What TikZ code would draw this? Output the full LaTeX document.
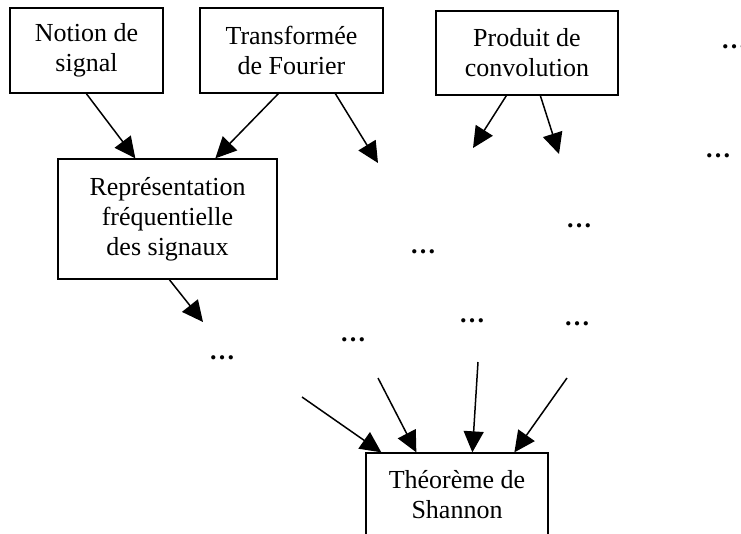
\documentclass[tikz,border=0pt]{standalone}
\usepackage{fontspec}
\setmainfont{Liberation Serif}
\usetikzlibrary{arrows.meta}
\begin{document}
\begin{tikzpicture}[x=1pt,y=-1pt,
  box/.style={draw, line width=1.3pt, align=center, inner sep=0pt, font=\fontsize{26}{30}\selectfont},
  dots/.style={inner sep=0pt, anchor=base, font=\fontsize{26}{30}\selectfont\bfseries},
  arr/.style={line width=1.5pt, -{Triangle[length=21pt,width=20pt]}}]
\useasboundingbox (0,0) rectangle (741,533);
\clip (0,0) rectangle (741,533);
% boxes
\node[box, minimum width=153pt, minimum height=85pt] (notion) at (86.5,50.5) {Notion de\\signal};
\node[box, minimum width=183pt, minimum height=85pt] (trans) at (291.5,50.5) {Transformée\\de Fourier};
\node[box, minimum width=182pt, minimum height=84pt] (prod) at (527,53) {Produit de\\convolution};
\node[box, minimum width=219pt, minimum height=120pt] (rep) at (167.5,219) {Représentation\\fréquentielle\\des signaux};
\node[box, minimum width=182pt, minimum height=84pt] (shannon) at (457,495) {Théorème de\\Shannon};
% dots
\node[dots] (d1) at (734,48) {…};
\node[dots] (d2) at (718,157) {…};
\node[dots] (d3) at (579,227) {…};
\node[dots] (d4) at (423,253) {…};
\node[dots] (d5) at (472,322) {…};
\node[dots] (d6) at (577,325) {…};
\node[dots] (d7) at (353,341) {…};
\node[dots] (d8) at (222,359) {…};
% free ends
\coordinate (e3) at (378,163);
\coordinate (e4) at (473,148);
\coordinate (e5) at (559,154);
\coordinate (e6) at (203,322);
\coordinate (s7) at (302,397);
\coordinate (s8) at (378,378);
\coordinate (s9) at (478,362);
\coordinate (s10) at (567,378);
% arrows
\draw[arr] ([xshift=77pt]notion.south west) -- ([xshift=78pt]rep.north west);
\draw[arr] ([xshift=79pt]trans.south west) -- ([xshift=158pt]rep.north west);
\draw[arr] ([xshift=136pt]trans.south west) -- (e3);
\draw[arr] ([xshift=71pt]prod.south west) -- (e4);
\draw[arr] ([xshift=105pt]prod.south west) -- (e5);
\draw[arr] ([xshift=112pt]rep.south west) -- (e6);
\draw[arr] (s7) -- ([xshift=16pt]shannon.north west);
\draw[arr] (s8) -- ([xshift=51pt]shannon.north west);
\draw[arr] (s9) -- ([xshift=107pt]shannon.north west);
\draw[arr] (s10) -- ([xshift=149pt]shannon.north west);
\end{tikzpicture}
\end{document}
